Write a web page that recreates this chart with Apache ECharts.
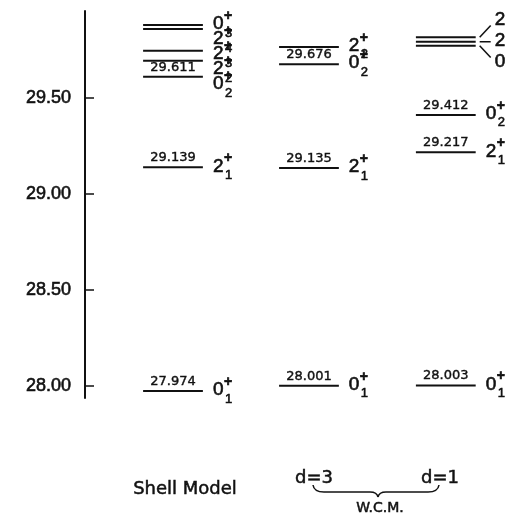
<!DOCTYPE html>
<html>
<head>
<meta charset="utf-8">
<script src="https://cdn.jsdelivr.net/npm/echarts@6/dist/echarts.min.js"></script>
<style>
  html, body { margin: 0; padding: 0; background: #fff; }
  #chart { width: 506px; height: 522px; }
</style>
</head>
<body>
<div id="chart"></div>
<script>
// Level energies (MeV) with spin J, level number n and parity for each calculation.
const shellEnergy  = [27.974, 29.139, 29.611, 29.694, 29.746, 29.859, 29.880];
const shellJ       = ['0', '2', '0', '2', '2', '2', '0'];
const shellN       = ['1', '1', '2', '2', '3', '4', '3'];
const shellPi      = ['+', '+', '+', '+', '+', '+', '+'];
const shellPrinted = [true, true, true, false, false, false, false];

const wcm3Energy  = [28.001, 29.135, 29.676, 29.766];
const wcm3J       = ['0', '2', '0', '2'];
const wcm3N       = ['1', '1', '2', '2'];
const wcm3Pi      = ['+', '+', '+', '+'];
const wcm3Printed = [true, true, true, false];

const wcm1Energy  = [28.003, 29.217, 29.412, 29.772, 29.793, 29.816];
const wcm1J       = ['0', '2', '0', '0', '2', '2'];
const wcm1N       = ['1', '1', '2', '', '', ''];
const wcm1Pi      = ['+', '+', '+', '', '', ''];
const wcm1Printed = [true, true, true, false, false, false];

const energyTicks = [28.00, 28.50, 29.00, 29.50];
const modelNames  = ['Shell Model', 'd=3', 'd=1'];
const groupName   = 'W.C.M.';

// Drawing style and column layout
const INK = '#111';
const HEAVY = 0.6;           // thin outline that gives the glyphs a heavier look
const HALF = 0.071;          // half length of a level line, in x-axis units
const columns = [
  { energy: shellEnergy, J: shellJ, n: shellN, pi: shellPi, printed: shellPrinted, center: 0.209, mode: 'down' },
  { energy: wcm3Energy,  J: wcm3J,  n: wcm3N,  pi: wcm3Pi,  printed: wcm3Printed,  center: 0.532, mode: 'down' },
  { energy: wcm1Energy,  J: wcm1J,  n: wcm1N,  pi: wcm1Pi,  printed: wcm1Printed,  center: 0.857, mode: 'fan' }
];

// Vertical label positions: push crowded labels apart (downwards, or fanned around the group centre)
function labelPositions(col, api) {
  const ys = col.energy.map(e => api.coord([col.center, e])[1]);
  const order = ys.map((y, i) => i).sort((a, b) => ys[a] - ys[b]);
  const out = ys.slice();
  const fanned = ys.map(() => false);
  if (col.mode === 'down') {
    const gap = 15;
    for (let k = 1; k < order.length; k++) {
      const prev = out[order[k - 1]];
      if (out[order[k]] < prev + gap) out[order[k]] = prev + gap;
    }
  } else {
    const gap = 21;
    let start = 0;
    for (let k = 1; k <= order.length; k++) {
      if (k === order.length || ys[order[k]] - ys[order[k - 1]] > gap) {
        const group = order.slice(start, k);
        if (group.length > 1) {
          const mean = group.reduce((s, i) => s + ys[i], 0) / group.length;
          group.forEach((i, j) => {
            out[i] = mean + (j - (group.length - 1) / 2) * gap;
            fanned[i] = true;
          });
        }
        start = k;
      }
    }
  }
  return { line: ys, label: out, fanned: fanned };
}

function glyph(text, x, y, size, align, weight) {
  return {
    type: 'text',
    style: { text: text, x: x, y: y, align: align, verticalAlign: 'middle',
             fontFamily: 'Liberation Sans', fontSize: size, fontWeight: weight || 'normal',
             fill: INK, stroke: INK, lineWidth: HEAVY }
  };
}

function makeRender(col) {
  return function (params, api) {
    const i = params.dataIndex;
    const e = api.value(1);
    const p0 = api.coord([col.center - HALF, e]);
    const p1 = api.coord([col.center + HALF, e]);
    const pos = labelPositions(col, api);
    const y = p0[1];
    const ly = pos.label[i];
    const children = [{
      type: 'line',
      shape: { x1: p0[0], y1: y, x2: p1[0], y2: y },
      style: { stroke: INK, lineWidth: 2 }
    }];
    if (col.printed[i]) {
      children.push({
        type: 'text',
        style: {
          text: e.toFixed(3), x: (p0[0] + p1[0]) / 2, y: y - 3,
          align: 'center', verticalAlign: 'bottom',
          fontFamily: 'DejaVu Sans', fontSize: 13, fill: INK, stroke: INK, lineWidth: 0.4
        }
      });
    }
    let lx = p1[0] + 10;
    if (pos.fanned[i]) {
      children.push({
        type: 'line',
        shape: { x1: p1[0] + 4, y1: y, x2: p1[0] + 15, y2: y + (ly - y) * 0.7 },
        style: { stroke: INK, lineWidth: 1.5 }
      });
      lx = p1[0] + 19;
    }
    children.push(glyph(col.J[i], lx, ly - 1, 19, 'left'));
    if (col.n[i]) children.push(glyph(col.n[i], lx + 12, ly + 8, 13, 'left'));
    if (col.pi[i]) children.push(glyph(col.pi[i], lx + 11, ly - 9, 14, 'left', 'bold'));
    return { type: 'group', children: children };
  };
}

const chart = echarts.init(document.getElementById('chart'), null, { renderer: 'canvas' });

const captionStyle = { fontFamily: 'DejaVu Sans', fontSize: 18, fill: INK, stroke: INK, lineWidth: 0.5,
                       align: 'center', verticalAlign: 'middle' };
function caption(text, x, y, size) {
  return { type: 'text', x: x, y: y,
           style: Object.assign({}, captionStyle, { text: text }, size ? { fontSize: size } : {}) };
}
function brace(x1, y1, cx, cy, x2, y2) {
  return { type: 'bezierCurve', shape: { x1, y1, cpx1: cx, cpy1: cy, x2, y2 },
           style: { stroke: INK, lineWidth: 1.5, fill: null } };
}

chart.setOption({
  animation: false,
  backgroundColor: '#fff',
  grid: { left: 85, right: 0, top: 11, bottom: 124 },
  xAxis: { type: 'value', min: 0, max: 1, show: false },
  yAxis: {
    type: 'value',
    min: 27.9375,
    max: 29.953,
    splitLine: { show: false },
    axisLine: { show: true, lineStyle: { color: INK, width: 2 } },
    axisTick: { show: true, inside: true, length: 9, customValues: energyTicks,
                lineStyle: { color: INK, width: 1.5 } },
    axisLabel: { customValues: energyTicks, formatter: v => v.toFixed(2), margin: 14,
                 fontFamily: 'Liberation Sans', fontSize: 18, color: INK,
                 textBorderColor: INK, textBorderWidth: HEAVY }
  },
  series: columns.map(col => ({
    type: 'custom',
    renderItem: makeRender(col),
    data: col.energy.map(e => [col.center, e]),
    clip: false,
    silent: true
  })),
  graphic: [
    caption(modelNames[0], 185, 489),
    caption(modelNames[1], 314, 478),
    caption(modelNames[2], 440, 478),
    caption(groupName, 380, 508, 14),
    brace(313, 485, 314, 492, 324, 492),
    { type: 'line', shape: { x1: 324, y1: 492, x2: 370, y2: 492 }, style: { stroke: INK, lineWidth: 1.5 } },
    brace(370, 492, 377, 492, 378, 497),
    brace(378, 497, 379, 492, 386, 492),
    { type: 'line', shape: { x1: 386, y1: 492, x2: 428, y2: 492 }, style: { stroke: INK, lineWidth: 1.5 } },
    brace(428, 492, 438, 492, 439, 485)
  ]
});
</script>
</body>
</html>
